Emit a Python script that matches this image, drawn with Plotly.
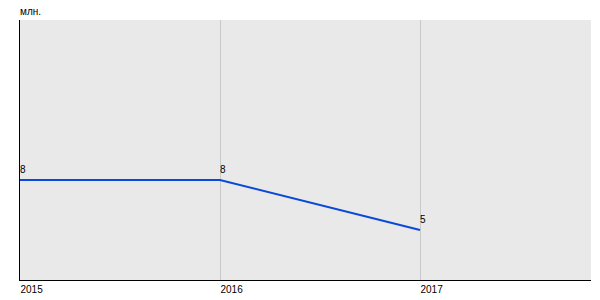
import plotly.graph_objects as go

years = [2015, 2016, 2017]
values = [8, 8, 5]
labels = ["8", "8", "5"]
unit = "млн."

fig = go.Figure()
fig.add_trace(go.Scatter(
    x=years, y=values, mode="lines",
    line=dict(color="#0a48dc", width=2), hoverinfo="skip", cliponaxis=False,
))
annotations = [dict(text=unit, xref="paper", yref="paper", x=0, y=1,
                    xanchor="left", yanchor="bottom", xshift=-2, yshift=1,
                    showarrow=False, font=dict(size=10))]
for xv, yv, t in zip(years, values, labels):
    annotations.append(dict(text=t, x=xv, y=yv, xref="x", yref="y",
                            xanchor="left", yanchor="bottom", xshift=-2, yshift=3,
                            showarrow=False, font=dict(size=10, color="#000000")))
fig.update_layout(
    width=600, height=300,
    margin=dict(l=20, r=9, t=20, b=20, autoexpand=False),
    paper_bgcolor="#ffffff", plot_bgcolor="#e9e9e9",
    font=dict(family="Liberation Sans, Arial, sans-serif", size=10, color="#000000"),
    showlegend=False,
    annotations=annotations,
)
fig.update_xaxes(range=[2015, 2017.855], tickvals=years, ticktext=[str(y) for y in years],
                 ticklabelposition="outside right", showgrid=True, gridcolor="#c8c8c8",
                 gridwidth=1, showline=True, linecolor="#000000", linewidth=1,
                 zeroline=False, ticks="", automargin=False, fixedrange=True)
fig.update_yaxes(range=[2, 17.6], showticklabels=False, showgrid=False,
                 showline=True, linecolor="#000000", linewidth=1, zeroline=False,
                 ticks="", automargin=False, fixedrange=True)
fig.write_html("out.html")
